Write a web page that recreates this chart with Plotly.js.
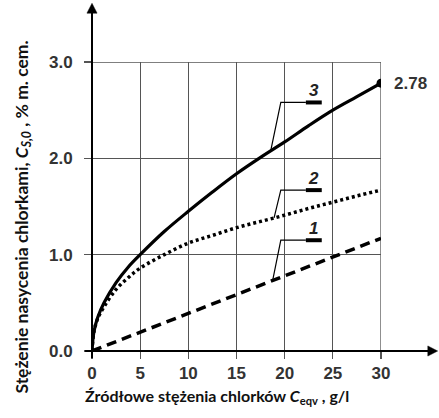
<!DOCTYPE html>
<html>
<head>
<meta charset="utf-8">
<script src="https://cdn.plot.ly/plotly-3.0.1.min.js"></script>
<style>html,body{margin:0;padding:0;background:#fff;}#chart{width:439px;height:418px;}</style>
</head>
<body>
<div id="chart"></div>
<script>
// ---- data ----
const xTicks = [0, 5, 10, 15, 20, 25, 30];
const xTickText = ['0', '5', '10', '15', '20', '25', '30'];
const yTicks = [0, 1, 2, 3];
const yTickText = ['0.0', '1.0', '2.0', '3.0'];

// curve 3 (solid)
const x3 = [0, 0.2, 0.6, 1.25, 2.5, 3.75, 5, 7.5, 10, 12.5, 15, 17.5, 20, 22.5, 25, 27.5, 30];
const y3 = [0, 0.2, 0.35, 0.5, 0.71, 0.87, 1.0, 1.24, 1.45, 1.65, 1.84, 2.01, 2.17, 2.34, 2.5, 2.64, 2.78];
// curve 2 (dotted)
const x2 = [0, 0.2, 0.6, 1.25, 2.5, 3.75, 5, 7.5, 10, 12.5, 15, 17.5, 20, 22.5, 25, 27.5, 30];
const y2 = [0, 0.2, 0.34, 0.46, 0.64, 0.76, 0.86, 1.0, 1.12, 1.2, 1.28, 1.345, 1.41, 1.48, 1.545, 1.61, 1.67];
// curve 1 (dashed)
const x1 = [0, 30];
const y1 = [0, 1.17];

const endX = 30;
const endY = 2.78;
const endLabel = '2.78';

const curveNames = ['1', '2', '3'];
const labelLevels = [1.15, 1.67, 2.58];     // y of label underline
const leaderFromX = [18.75, 18.9, 18.55];   // where leader meets the curve
const leaderBendX = 19.6;
const underlineX = [22.2, 23.85];

// ---- helpers ----
function interp(xs, ys, x) {
  for (let i = 0; i < xs.length - 1; i++) {
    if (x >= xs[i] && x <= xs[i + 1]) {
      const t = (x - xs[i]) / (xs[i + 1] - xs[i]);
      return ys[i] + t * (ys[i + 1] - ys[i]);
    }
  }
  return ys[ys.length - 1];
}
const curvesX = [x1, x2, x3];
const curvesY = [y1, y2, y3];

const tickFont = {family: 'Liberation Sans, Arial, sans-serif', size: 17, color: '#333', weight: 'bold'};
const titleFontX = {family: 'Lato, Carlito, sans-serif', size: 16, color: '#111', weight: 'bold'};
const titleFontY = {family: 'Lato, Carlito, sans-serif', size: 17.5, color: '#111', weight: 'bold'};

const traces = [
  {x: x1, y: y1, mode: 'lines', line: {color: '#000', width: 3.5, dash: '10px,6px'}, hoverinfo: 'skip'},
  {x: x2, y: y2, mode: 'lines', line: {color: '#000', width: 3.5, dash: '3px,3px', shape: 'spline', smoothing: 1}, hoverinfo: 'skip'},
  {x: x3, y: y3, mode: 'lines', line: {color: '#000', width: 3.2, shape: 'spline', smoothing: 1}, hoverinfo: 'skip'},
  {x: [endX], y: [endY], mode: 'markers', marker: {color: '#000', size: 9}, hoverinfo: 'skip'}
];

const shapes = [];
const annotations = [];

// plot border (box)
shapes.push({type: 'rect', xref: 'x', yref: 'y', x0: xTicks[0], x1: xTicks[xTicks.length - 1],
  y0: yTicks[0], y1: yTicks[yTicks.length - 1], line: {color: '#555', width: 1.3}, layer: 'below'});

// axis lines extending past the box, with arrowheads (plot area is square, so paper units are equal)
shapes.push({type: 'line', xref: 'paper', yref: 'paper', x0: -0.024, x1: 1.17, y0: 0, y1: 0, line: {color: '#000', width: 2}});
shapes.push({type: 'line', xref: 'paper', yref: 'paper', x0: 0, x1: 0, y0: -0.024, y1: 1.175, line: {color: '#000', width: 2}});
shapes.push({type: 'path', xref: 'paper', yref: 'paper', path: 'M1.196,0 L1.162,0.0175 L1.162,-0.0175 Z',
  fillcolor: '#000', line: {color: '#000', width: 0.5}});
shapes.push({type: 'path', xref: 'paper', yref: 'paper', path: 'M0,1.203 L0.0175,1.169 L-0.0175,1.169 Z',
  fillcolor: '#000', line: {color: '#000', width: 0.5}});

// curve labels with leader lines
for (let i = 0; i < curveNames.length; i++) {
  const fx = leaderFromX[i];
  const fy = interp(curvesX[i], curvesY[i], fx);
  const ly = labelLevels[i];
  shapes.push({type: 'path', xref: 'x', yref: 'y',
    path: `M${fx},${fy} L${leaderBendX},${ly} L${underlineX[0]},${ly}`,
    line: {color: '#000', width: 1.2}});
  shapes.push({type: 'line', xref: 'x', yref: 'y', x0: underlineX[0], x1: underlineX[1], y0: ly, y1: ly,
    line: {color: '#000', width: 4}});
  annotations.push({xref: 'x', yref: 'y', x: (underlineX[0] + underlineX[1]) / 2, y: ly,
    xanchor: 'center', yanchor: 'bottom', yshift: 0, showarrow: false,
    text: '<b><i>' + curveNames[i] + '</i></b>',
    font: {family: 'Liberation Sans, Arial, sans-serif', size: 17, color: '#222'}});
}

// end value label
annotations.push({xref: 'x', yref: 'y', x: endX, y: endY, xanchor: 'left', yanchor: 'middle', xshift: 11,
  showarrow: false, text: '<b>' + endLabel + '</b>', font: tickFont});

// axis titles
annotations.push({xref: 'paper', yref: 'paper', x: 0.434, y: -0.159, xanchor: 'center', yanchor: 'middle', showarrow: false,
  text: '<b>Źródłowe stężenia chlorków <i>C</i><sub>eqv</sub> , g/l</b>', font: titleFontX});
annotations.push({xref: 'paper', yref: 'paper', x: -0.24, y: 0.464, xanchor: 'center', yanchor: 'middle', showarrow: false,
  textangle: -90,
  text: '<b>Stężenie nasycenia chlorkami, <i>C</i><sub><i>S,0</i></sub> , % m. cem.</b>', font: titleFontY});

const layout = {
  width: 439, height: 418,
  margin: {l: 92, r: 58, t: 62, b: 67, pad: 0},
  paper_bgcolor: '#fff', plot_bgcolor: '#fff',
  showlegend: false,
  xaxis: {range: [xTicks[0], xTicks[xTicks.length - 1]], tickvals: xTicks, ticktext: xTickText,
    ticks: 'outside', ticklen: 7, tickwidth: 1.3, tickcolor: '#555',
    showgrid: true, gridcolor: '#555', gridwidth: 1.3, zeroline: false, showline: false,
    tickfont: tickFont, fixedrange: true},
  yaxis: {range: [yTicks[0], yTicks[yTicks.length - 1]], tickvals: yTicks, ticktext: yTickText,
    ticks: 'outside', ticklen: 7, tickwidth: 1.3, tickcolor: '#555',
    showgrid: true, gridcolor: '#555', gridwidth: 1.3, zeroline: false, showline: false,
    tickfont: tickFont, ticklabelstandoff: 8, fixedrange: true},
  shapes: shapes,
  annotations: annotations
};

Plotly.newPlot('chart', traces, layout, {staticPlot: true, displayModeBar: false});
</script>
</body>
</html>
